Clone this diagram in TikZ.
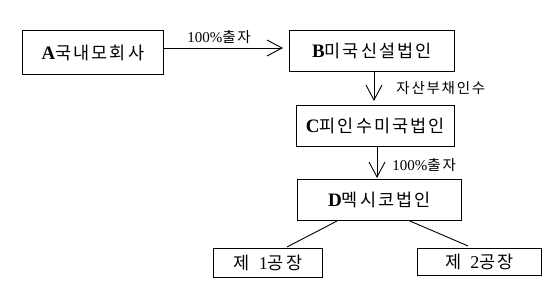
\documentclass[tikz,border=0pt]{standalone}
\usepackage{fontspec}
\setmainfont{Liberation Serif}
\newfontfamily\kr[LetterSpace=12]{Noto Sans CJK KR}
\newfontfamily\krl[LetterSpace=12]{Noto Sans CJK KR}
\usetikzlibrary{arrows.meta}
\tikzset{
  box/.style={draw, line width=1.1pt, inner sep=0pt, anchor=center, font=\fontsize{17.5}{20}\selectfont},
  lbl/.style={inner sep=0pt, font=\fontsize{14.5}{16}\selectfont},
  arr/.style={line width=0.9pt, -{Straight Barb[length=15pt,width=16pt,line width=0.9pt]}},
  ln/.style={line width=0.9pt}
}
\newcommand{\Ltr}[1]{{\fontsize{19}{20}\selectfont\textbf{#1}}}
\newcommand{\Dig}[1]{{\fontsize{15}{16}\selectfont #1}}
\begin{document}
\begin{tikzpicture}[x=1pt,y=-1pt]
\useasboundingbox (0,0) rectangle (555,295);
\node[box, minimum width=141pt, minimum height=44pt] (A) at (93,52.5) {\Ltr{A}\kr 국내모회사};
\node[box, minimum width=165pt, minimum height=41pt] (B) at (372,51) {\Ltr{B}\kr 미국신설법인};
\node[box, minimum width=158pt, minimum height=41pt] (C) at (375.5,126) {\Ltr{C}\kr 피인수미국법인};
\node[box, minimum width=164pt, minimum height=41pt] (D) at (379.5,200) {\Ltr{D}\kr 멕시코법인};
\node[box, minimum width=109pt, minimum height=29pt] (E1) at (268,263) {{\kr 제}\hspace{9pt}{\fontsize{18}{19}\selectfont 1}{\kr 공장}};
\node[box, minimum width=124pt, minimum height=27pt] (E2) at (479.5,262) {{\kr 제}\hspace{9pt}{\fontsize{18}{19}\selectfont 2}{\kr 공장}};
\draw[arr, shorten >=6pt] ([yshift=4.5pt]A.east) -- ([yshift=3pt]B.west)
  node[lbl, pos=0.44, above=4pt] (l1) {\Dig{100\%}{\krl 출자}};
\draw[arr, shorten >=4pt] ([xshift=2pt]B.south) -- ([xshift=-1.5pt]C.north)
  node[lbl, midway, right=22pt] (l2) {\krl 자산부채인수};
\draw[arr, shorten >=1pt] ([xshift=1.5pt]C.south) -- ([xshift=-2.5pt]D.north)
  node[lbl, midway, right=15pt, yshift=-2pt] (l3) {\Dig{100\%}{\krl 출자}};
\draw[ln] ([xshift=-42.5pt]D.south) -- ([xshift=19pt,yshift=1pt]E1.north);
\draw[ln] ([xshift=30.5pt]D.south) -- ([xshift=-11.5pt,yshift=2pt]E2.north);
\end{tikzpicture}
\end{document}
